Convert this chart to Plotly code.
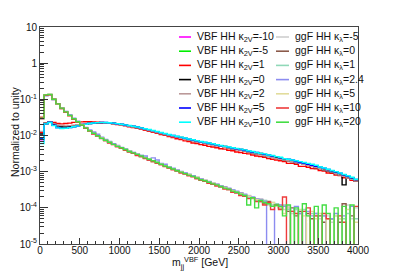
import numpy as np
import plotly.graph_objects as go

# ---------------- data ----------------
BIN_EDGES_GEV = list(range(0, 4001, 50))  # 80 bins of 50 GeV

VBF_LABELS = ["VBF HH κ<sub>2V</sub>=-10", "VBF HH κ<sub>2V</sub>=-5", "VBF HH κ<sub>2V</sub>=1",
              "VBF HH κ<sub>2V</sub>=0", "VBF HH κ<sub>2V</sub>=2", "VBF HH κ<sub>2V</sub>=5",
              "VBF HH κ<sub>2V</sub>=10"]
GGF_LABELS = ["ggF HH κ<sub>λ</sub>=-5", "ggF HH κ<sub>λ</sub>=0", "ggF HH κ<sub>λ</sub>=1",
              "ggF HH κ<sub>λ</sub>=2.4", "ggF HH κ<sub>λ</sub>=5", "ggF HH κ<sub>λ</sub>=10",
              "ggF HH κ<sub>λ</sub>=20"]

vbf_k2v_m10 = [0.007, 0.021, 0.023, 0.019, 0.0165, 0.0160, 0.0162, 0.0168, 0.0176, 0.0186,
               0.0196, 0.0206, 0.0214, 0.0221, 0.0226, 0.0228, 0.0227, 0.0224, 0.0218, 0.0211,
               0.0203, 0.0195, 0.0187, 0.0178, 0.0170, 0.0161, 0.0152, 0.0143, 0.0134, 0.0126,
               0.0118, 0.0111, 0.0104, 0.0098, 0.0092, 0.0087, 0.0082, 0.0078, 0.0074, 0.0070,
               0.0066, 0.0063, 0.0060, 0.0057, 0.0054, 0.0052, 0.0049, 0.0047, 0.0045, 0.0043,
               0.0041, 0.0039, 0.0037, 0.0035, 0.0033, 0.0031, 0.0029, 0.0028, 0.0026, 0.0025,
               0.0023, 0.0022, 0.0021, 0.0020, 0.0019, 0.0018, 0.0017, 0.0016, 0.0015, 0.0014,
               0.00128, 0.00118, 0.00110, 0.00102, 0.00094, 0.00086, 0.00079, 0.00072, 0.00065, 0.00058]
vbf_k2v_m5 = [0.008, 0.021, 0.0235, 0.0195, 0.0168, 0.0162, 0.0163, 0.0170, 0.0178, 0.0188,
              0.0198, 0.0207, 0.0215, 0.0222, 0.0226, 0.0227, 0.0226, 0.0222, 0.0217, 0.0210,
              0.0202, 0.0194, 0.0186, 0.0177, 0.0169, 0.0160, 0.0152, 0.0143, 0.0135, 0.0127,
              0.0119, 0.0112, 0.0105, 0.0099, 0.0093, 0.0088, 0.0083, 0.0078, 0.0074, 0.0070,
              0.0067, 0.0063, 0.0060, 0.0058, 0.0055, 0.0052, 0.0050, 0.0047, 0.0045, 0.0043,
              0.0041, 0.0039, 0.0037, 0.0035, 0.0033, 0.0032, 0.0030, 0.0028, 0.0027, 0.0025,
              0.0024, 0.0022, 0.0021, 0.0020, 0.0019, 0.0018, 0.0017, 0.0016, 0.0015, 0.0014,
              0.00130, 0.00120, 0.00112, 0.00103, 0.00095, 0.00087, 0.00080, 0.00073, 0.00066, 0.00057]
vbf_k2v_1 = [0.012, 0.022, 0.024, 0.023, 0.0215, 0.021, 0.0215, 0.022, 0.023, 0.0235,
             0.0238, 0.0240, 0.0240, 0.0238, 0.0234, 0.0229, 0.0223, 0.0217, 0.0209, 0.0201,
             0.0192, 0.0184, 0.0174, 0.0167, 0.0157, 0.0148, 0.0140, 0.0130, 0.0122, 0.0115,
             0.0107, 0.0101, 0.0093, 0.0088, 0.0081, 0.0077, 0.0071, 0.0068, 0.0062, 0.0060,
             0.0056, 0.0054, 0.0050, 0.0048, 0.0046, 0.0043, 0.0042, 0.0039, 0.0038, 0.0035,
             0.0034, 0.0032, 0.0031, 0.0029, 0.0027, 0.0026, 0.0025, 0.0023, 0.0022, 0.0021,
             0.0020, 0.0019, 0.0017, 0.0017, 0.0016, 0.0014, 0.00140, 0.00132, 0.00122, 0.00120,
             0.00108, 0.00104, 0.00092, 0.00090, 0.00080, 0.00078, 0.00068, 0.00066, 0.00058, 0.00054]
vbf_k2v_0 = [0.011, 0.022, 0.0235, 0.0205, 0.0185, 0.0178, 0.0175, 0.0178, 0.0185, 0.0193,
             0.0201, 0.0209, 0.0216, 0.0221, 0.0225, 0.0226, 0.0225, 0.0221, 0.0215, 0.0208,
             0.0200, 0.0192, 0.0183, 0.0175, 0.0166, 0.0157, 0.0148, 0.0140, 0.0131, 0.0123,
             0.0115, 0.0108, 0.0101, 0.0095, 0.0090, 0.0085, 0.0080, 0.0076, 0.0072, 0.0068,
             0.0065, 0.0062, 0.0059, 0.0056, 0.0053, 0.0050, 0.0048, 0.0045, 0.0043, 0.0041,
             0.0039, 0.0037, 0.0035, 0.0033, 0.0031, 0.0030, 0.0028, 0.0026, 0.0025, 0.0024,
             0.0022, 0.0021, 0.0020, 0.0019, 0.0018, 0.0017, 0.0016, 0.0015, 0.0014, 0.0013,
             0.00121, 0.00113, 0.00104, 0.00096, 0.00089, 0.00082, 0.00043, 0.00070, 0.00062, 0.00056]
vbf_k2v_2 = [0.013, 0.022, 0.0238, 0.021, 0.0195, 0.0188, 0.0185, 0.0188, 0.0193, 0.0200,
             0.0207, 0.0213, 0.0219, 0.0223, 0.0225, 0.0224, 0.0221, 0.0216, 0.0210, 0.0203,
             0.0195, 0.0187, 0.0179, 0.0170, 0.0162, 0.0153, 0.0145, 0.0137, 0.0129, 0.0121,
             0.0113, 0.0106, 0.0100, 0.0094, 0.0089, 0.0084, 0.0079, 0.0075, 0.0071, 0.0067,
             0.0064, 0.0061, 0.0058, 0.0055, 0.0052, 0.0050, 0.0047, 0.0045, 0.0043, 0.0041,
             0.0039, 0.0037, 0.0035, 0.0033, 0.0031, 0.0029, 0.0028, 0.0026, 0.0025, 0.0023,
             0.0022, 0.0021, 0.0020, 0.0019, 0.0018, 0.0017, 0.0016, 0.0015, 0.0014, 0.0013,
             0.00122, 0.00112, 0.00105, 0.00097, 0.00088, 0.00081, 0.00074, 0.00067, 0.00062, 0.00055]
vbf_k2v_5 = [0.008, 0.021, 0.0232, 0.0192, 0.0166, 0.0158, 0.0160, 0.0166, 0.0175, 0.0185,
             0.0196, 0.0206, 0.0215, 0.0222, 0.0227, 0.0229, 0.0228, 0.0225, 0.0219, 0.0212,
             0.0204, 0.0196, 0.0188, 0.0180, 0.0171, 0.0162, 0.0153, 0.0145, 0.0136, 0.0128,
             0.0120, 0.0113, 0.0106, 0.0100, 0.0094, 0.0089, 0.0084, 0.0079, 0.0075, 0.0071,
             0.0067, 0.0064, 0.0061, 0.0058, 0.0055, 0.0052, 0.0050, 0.0047, 0.0045, 0.0043,
             0.0041, 0.0039, 0.0037, 0.0035, 0.0034, 0.0032, 0.0030, 0.0029, 0.0027, 0.0026,
             0.0024, 0.0023, 0.0022, 0.0021, 0.0019, 0.0018, 0.0017, 0.0016, 0.0015, 0.0014,
             0.00132, 0.00124, 0.00115, 0.00106, 0.00098, 0.00090, 0.00082, 0.00075, 0.00068, 0.00061]
vbf_k2v_10 = [0.006, 0.021, 0.0228, 0.0188, 0.0162, 0.0156, 0.0158, 0.0165, 0.0174, 0.0184,
              0.0195, 0.0205, 0.0214, 0.0222, 0.0227, 0.0230, 0.0229, 0.0226, 0.0220, 0.0213,
              0.0205, 0.0197, 0.0189, 0.0181, 0.0172, 0.0163, 0.0154, 0.0146, 0.0137, 0.0129,
              0.0121, 0.0114, 0.0107, 0.0101, 0.0095, 0.0090, 0.0085, 0.0080, 0.0076, 0.0072,
              0.0068, 0.0065, 0.0062, 0.0059, 0.0056, 0.0053, 0.0050, 0.0048, 0.0046, 0.0044,
              0.0042, 0.0040, 0.0038, 0.0036, 0.0034, 0.0032, 0.0031, 0.0029, 0.0028, 0.0026,
              0.0025, 0.0023, 0.0022, 0.0021, 0.0020, 0.0019, 0.0018, 0.0017, 0.0016, 0.0015,
              0.00135, 0.00126, 0.00117, 0.00108, 0.00100, 0.00092, 0.00084, 0.00077, 0.00070, 0.00062]

ggf_kl_m5 = [0.031, 0.128, 0.134, 0.101, 0.076, 0.058, 0.046, 0.036, 0.029, 0.024,
             0.0197, 0.0162, 0.0135, 0.0116, 0.0099, 0.0086, 0.0074, 0.0066, 0.0058, 0.0051,
             0.0046, 0.0041, 0.0037, 0.0034, 0.0030, 0.0027, 0.0025, 0.0022, 0.0020, 0.0018,
             0.0016, 0.00148, 0.00132, 0.00118, 0.00110, 0.00098, 0.00090, 0.00083, 0.00074, 0.00069,
             0.00062, 0.00058, 0.00051, 0.00048, 0.00042, 0.00040, 0.00035, 0.00034, 0.00029, 0.00028,
             0.00025, 0.00022, 0.00022, 0.00018, 0.00018, 0.00015, 0.00016, 0.00012, 0.00014, 0.00011,
             0.00012, 9e-5, 0.00011, 7e-5, 9e-5, 0, 8e-5, 6e-5, 0, 7e-5,
             5e-5, 0, 6e-5, 4e-5, 0, 5e-5, 0, 0.00012, 5e-5, 0.00010]
ggf_kl_0 = [0.029, 0.131, 0.136, 0.099, 0.074, 0.056, 0.045, 0.036, 0.029, 0.0235,
            0.0193, 0.0160, 0.0134, 0.0114, 0.0097, 0.0084, 0.0073, 0.0064, 0.0057, 0.0050,
            0.0045, 0.0041, 0.0036, 0.0033, 0.0029, 0.0026, 0.0024, 0.0021, 0.0019, 0.0018,
            0.0016, 0.00142, 0.00128, 0.00120, 0.00105, 0.00100, 0.00088, 0.00081, 0.00076, 0.00066,
            0.00061, 0.00055, 0.00053, 0.00046, 0.00044, 0.00038, 0.00037, 0.00032, 0.00030, 0.00026,
            0.00026, 0.00021, 0.00020, 0.00019, 0.00016, 0.00017, 0.00013, 0.00015, 0.00011, 0.00012,
            0.00010, 0.00011, 8e-5, 0.00010, 6e-5, 8e-5, 0, 7e-5, 5e-5, 0,
            6e-5, 4e-5, 0, 5e-5, 0, 4e-5, 0.00013, 0, 6e-5, 0]
ggf_kl_1 = [0.030, 0.129, 0.135, 0.100, 0.075, 0.057, 0.045, 0.036, 0.0285, 0.024,
            0.0194, 0.0161, 0.0136, 0.0114, 0.0098, 0.0085, 0.0075, 0.0065, 0.0057, 0.0052,
            0.0046, 0.0042, 0.0037, 0.0033, 0.0030, 0.0028, 0.0024, 0.0022, 0.0020, 0.0019,
            0.00165, 0.00145, 0.00135, 0.00118, 0.00112, 0.00097, 0.00092, 0.00080, 0.00077, 0.00067,
            0.00063, 0.00056, 0.00052, 0.00047, 0.00043, 0.00040, 0.00036, 0.00033, 0.00031, 0.00027,
            0.00024, 0.00023, 0.00020, 0.00019, 0.00016, 0.00015, 0.00016, 0.00013, 0.00012, 0.00013,
            0.00010, 0.00012, 9e-5, 0, 9e-5, 7e-5, 9e-5, 0, 7e-5, 6e-5,
            0, 6e-5, 5e-5, 0, 6e-5, 0, 5e-5, 7e-5, 0, 5e-5]
ggf_kl_2p4 = [0.030, 0.125, 0.132, 0.099, 0.075, 0.058, 0.046, 0.037, 0.030, 0.025,
              0.0205, 0.0168, 0.0142, 0.0125, 0.0108, 0.0090, 0.0078, 0.0068, 0.0059, 0.0053,
              0.0047, 0.0042, 0.0038, 0.0034, 0.0031, 0.0028, 0.0027, 0.0023, 0.0024, 0.0021,
              0.0017, 0.0016, 0.00135, 0.00125, 0.00112, 0.00102, 0.00092, 0.00085, 0.00076, 0.00070,
              0.00064, 0.00058, 0.00054, 0.00048, 0.00045, 0.00041, 0.00037, 0.00035, 0.00031, 0.00029,
              0.00026, 0.00024, 0.00021, 0.00020, 0.00018, 0.00017, 0.00015, 0, 0, 0.00012,
              0.00012, 0.00011, 0.00010, 8e-5, 0.00011, 7e-5, 0, 8e-5, 6e-5, 7e-5,
              0, 6e-5, 0, 5e-5, 7e-5, 0, 6e-5, 0, 0.00011, 0]
ggf_kl_5 = [0.031, 0.132, 0.136, 0.100, 0.074, 0.057, 0.044, 0.035, 0.029, 0.0238,
            0.0196, 0.0159, 0.0133, 0.0113, 0.0097, 0.0085, 0.0073, 0.0065, 0.0056, 0.0051,
            0.0045, 0.0040, 0.0037, 0.0032, 0.0030, 0.0026, 0.0024, 0.0022, 0.0019, 0.0018,
            0.0016, 0.00146, 0.00130, 0.00116, 0.00108, 0.00098, 0.00088, 0.00084, 0.00073, 0.00070,
            0.00061, 0.00058, 0.00050, 0.00048, 0.00042, 0.00039, 0.00036, 0.00032, 0.00030, 0.00027,
            0.00025, 0.00022, 0.00021, 0.00018, 0.00017, 0.00016, 0.00014, 0.00013, 0.00014, 0.00011,
            0.00010, 7e-5, 0.00010, 8e-5, 0, 9e-5, 6e-5, 0, 8e-5, 5e-5,
            7e-5, 0, 5e-5, 0, 6e-5, 5e-5, 0, 9e-5, 0, 4e-5]
ggf_kl_10 = [0.032, 0.130, 0.134, 0.101, 0.075, 0.056, 0.044, 0.035, 0.028, 0.023,
             0.0190, 0.0158, 0.0132, 0.0110, 0.0096, 0.0082, 0.0072, 0.0062, 0.0056, 0.0049,
             0.0044, 0.0039, 0.0035, 0.0032, 0.0028, 0.0026, 0.0023, 0.0021, 0.0019, 0.0017,
             0.00155, 0.00138, 0.00126, 0.00112, 0.00104, 0.00092, 0.00086, 0.00077, 0.00072, 0.00064,
             0.00058, 0.00054, 0.00048, 0.00045, 0.00040, 0.00038, 0.00033, 0.00032, 0.00027, 0.00026,
             0.00022, 0.00021, 0.00018, 0.00019, 0.00015, 0.00015, 0.00012, 0.00014, 9e-5, 0.00012,
             9e-5, 0.00020, 0, 8e-5, 7e-5, 0, 8e-5, 0.00010, 0, 6e-5,
             0, 7e-5, 5e-5, 0, 0, 6e-5, 4e-5, 0, 0, 0.00011]
ggf_kl_20 = [0.030, 0.133, 0.137, 0.101, 0.075, 0.057, 0.045, 0.036, 0.029, 0.024,
             0.0196, 0.0162, 0.0134, 0.0115, 0.0098, 0.0084, 0.0074, 0.0065, 0.0057, 0.0050,
             0.0046, 0.0041, 0.0036, 0.0033, 0.0030, 0.0027, 0.0024, 0.0022, 0.0020, 0.0018,
             0.0016, 0.00144, 0.00130, 0.00118, 0.00106, 0.00097, 0.00088, 0.00080, 0.00074, 0.00067,
             0.00060, 0.00056, 0.00051, 0.00046, 0.00043, 0.00039, 0.00035, 0.00033, 0.00029, 0.00027,
             0.00024, 0.00022, 0.00012, 0.00019, 0.00010, 0.00016, 0.00014, 0.00013, 0.00011, 0.00012,
             0.00011, 6e-5, 0.00012, 0, 0.00010, 0, 0.00013, 6e-5, 0, 0.00011,
             0, 0.00012, 7e-5, 0, 0.00010, 0, 0.00011, 0, 0.00012, 0]

VBF_SERIES = [vbf_k2v_m10, vbf_k2v_m5, vbf_k2v_1, vbf_k2v_0, vbf_k2v_2, vbf_k2v_5, vbf_k2v_10]
GGF_SERIES = [ggf_kl_m5, ggf_kl_0, ggf_kl_1, ggf_kl_2p4, ggf_kl_5, ggf_kl_10, ggf_kl_20]

Y_TICK_VALUES = [1e-5, 1e-4, 1e-3, 1e-2, 1e-1, 1, 10]
Y_TICK_TEXT = ["10<sup>-5</sup>", "10<sup>-4</sup>", "10<sup>-3</sup>", "10<sup>-2</sup>",
               "10<sup>-1</sup>", "1", "10"]
X_TICK_VALUES = [0, 500, 1000, 1500, 2000, 2500, 3000, 3500, 4000]

# ---------------- styles / layout ----------------
VBF_COLORS = ["#ff00ff", "#00ee00", "#ff0000", "#000000", "#bb9999", "#0000ff", "#00ffff"]
GGF_COLORS = ["#cfcfcf", "#8b5a4a", "#90d8b8", "#8c8cf0", "#e2dc9c", "#ee3b3b", "#44dd44"]
FONT = "Liberation Sans, Arial, Helvetica, sans-serif"
OFF = 8                       # page body margin that shifts the figure
W, H = 399 - OFF, 272 - OFF   # figure size that fits in the window
# target plot frame in window pixels: x 40..358, y 27..244
PX0, PX1, PY0, PY1 = 40, 358, 27, 244
ML, MT = PX0 - OFF, PY0 - OFF
MR, MB = W - (PX1 - OFF), H - (PY1 - OFF)
pw, ph = PX1 - PX0, PY1 - PY0


def paper_x(px):
    return (px - PX0) / pw


def paper_y(py):
    return (PY1 - py) / ph


fig = go.Figure()
edges = np.array(BIN_EDGES_GEV, dtype=float)


def add_hist(values, color, name):
    v = np.array(values, dtype=float)
    v = np.where(v > 0, v, 1e-9)  # empty bins drop below the axis floor
    y = np.append(v, v[-1])
    fig.add_trace(go.Scatter(x=edges, y=y, mode="lines", line_shape="hv",
                             line=dict(color=color, width=1.4), name=name,
                             showlegend=False, hoverinfo="skip"))


for vals, col, lab in zip(VBF_SERIES, VBF_COLORS, VBF_LABELS):
    add_hist(vals, col, lab)
for vals, col, lab in zip(GGF_SERIES, GGF_COLORS, GGF_LABELS):
    add_hist(vals, col, lab)

minor_y = [m * 10.0 ** e for e in range(-5, 1) for m in range(2, 10)]

fig.update_xaxes(range=[0, 4000], tickmode="array", tickvals=X_TICK_VALUES,
                 ticks="inside", ticklen=6, tickcolor="#333", tickwidth=1,
                 ticklabelstandoff=-3,
                 minor=dict(ticks="inside", ticklen=3, dtick=100, tickcolor="#333", showgrid=False),
                 showline=True, linecolor="#444", linewidth=1, mirror=True,
                 showgrid=False, zeroline=False,
                 tickfont=dict(family=FONT, size=10, color="#111"))
fig.update_yaxes(type="log", range=[-5, 1], tickmode="array", tickvals=Y_TICK_VALUES,
                 ticktext=Y_TICK_TEXT, ticks="inside", ticklen=8, tickcolor="#333",
                 minor=dict(ticks="inside", ticklen=4, tickmode="array", tickvals=minor_y,
                            tickcolor="#333", showgrid=False),
                 showline=True, linecolor="#444", linewidth=1, mirror=True,
                 showgrid=False, zeroline=False,
                 tickfont=dict(family=FONT, size=10, color="#111"))

shapes, annots = [], []
# axis titles
annots.append(dict(xref="paper", yref="paper", x=paper_x(200), y=paper_y(263),
                   xanchor="center", yanchor="middle", showarrow=False,
                   text="m<sub>jj</sub><sup>VBF</sup> [GeV]",
                   font=dict(family=FONT, size=10.5, color="#111")))
annots.append(dict(xref="paper", yref="paper", x=paper_x(15), y=paper_y(132),
                   xanchor="center", yanchor="middle", showarrow=False, textangle=-90,
                   text="Normalized to unity",
                   font=dict(family=FONT, size=10.5, color="#111")))

# two-column key inside the frame
row_px = [37.0, 51.2, 65.4, 79.6, 93.8, 108.0, 122.2]
for labels, colors, lx0, lx1, tx in [(VBF_LABELS, VBF_COLORS, 179, 191, 195),
                                     (GGF_LABELS, GGF_COLORS, 276, 289, 293)]:
    for r, (lab, c) in enumerate(zip(labels, colors)):
        yp = paper_y(row_px[r])
        shapes.append(dict(type="line", xref="paper", yref="paper",
                           x0=paper_x(lx0), x1=paper_x(lx1), y0=yp, y1=yp,
                           line=dict(color=c, width=1.6)))
        annots.append(dict(xref="paper", yref="paper", x=paper_x(tx), y=yp,
                           xanchor="left", yanchor="middle", showarrow=False, text=lab,
                           font=dict(family=FONT, size=10.5, color="#111")))

fig.update_layout(width=W, height=H, margin=dict(l=ML, r=MR, t=MT, b=MB, autoexpand=False),
                  plot_bgcolor="white", paper_bgcolor="white", showlegend=False,
                  shapes=shapes, annotations=annots)
fig.write_html("out.html")
